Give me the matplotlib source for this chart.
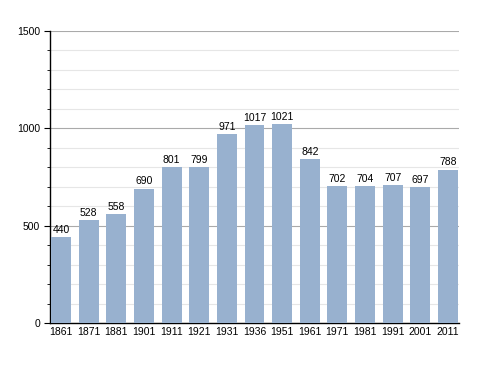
import matplotlib
matplotlib.use("Agg")
import matplotlib.pyplot as plt
from matplotlib.ticker import MultipleLocator

years = ["1861", "1871", "1881", "1901", "1911", "1921", "1931", "1936",
         "1951", "1961", "1971", "1981", "1991", "2001", "2011"]
population = [440, 528, 558, 690, 801, 799, 971, 1017,
              1021, 842, 702, 704, 707, 697, 788]

plt.rcParams["font.family"] = ["Liberation Sans", "DejaVu Sans"]

fig = plt.figure(figsize=(4.88, 3.73), dpi=100)
ax = fig.add_axes([0.1025, 0.134, 0.838, 0.783])

x = list(range(len(years)))
bars = ax.bar(x, population, width=0.72, color="#98b1cf", zorder=3)

for xi, v in zip(x, population):
    ax.text(xi, v + 12, str(v), ha="center", va="bottom", fontsize=7.5, zorder=4)

ax.set_xlim(-0.4, len(years) - 0.6)
ax.set_ylim(0, 1500)
ax.set_xticks(x)
ax.set_xticklabels(years)
ax.yaxis.set_major_locator(MultipleLocator(500))
ax.yaxis.set_minor_locator(MultipleLocator(100))

ax.grid(axis="y", which="major", color="#aaaaaa", linewidth=0.8, zorder=0)
ax.grid(axis="y", which="minor", color="#e6e6e6", linewidth=0.8, zorder=0)

for side in ["top", "right"]:
    ax.spines[side].set_visible(False)
ax.spines["left"].set_linewidth(1.0)
ax.spines["bottom"].set_linewidth(1.0)

ax.tick_params(axis="x", length=0, labelsize=7.5, pad=3)
ax.tick_params(axis="y", which="major", length=4, labelsize=7.5, pad=3)
ax.tick_params(axis="y", which="minor", length=2)

fig.savefig("out.png", dpi=100)
